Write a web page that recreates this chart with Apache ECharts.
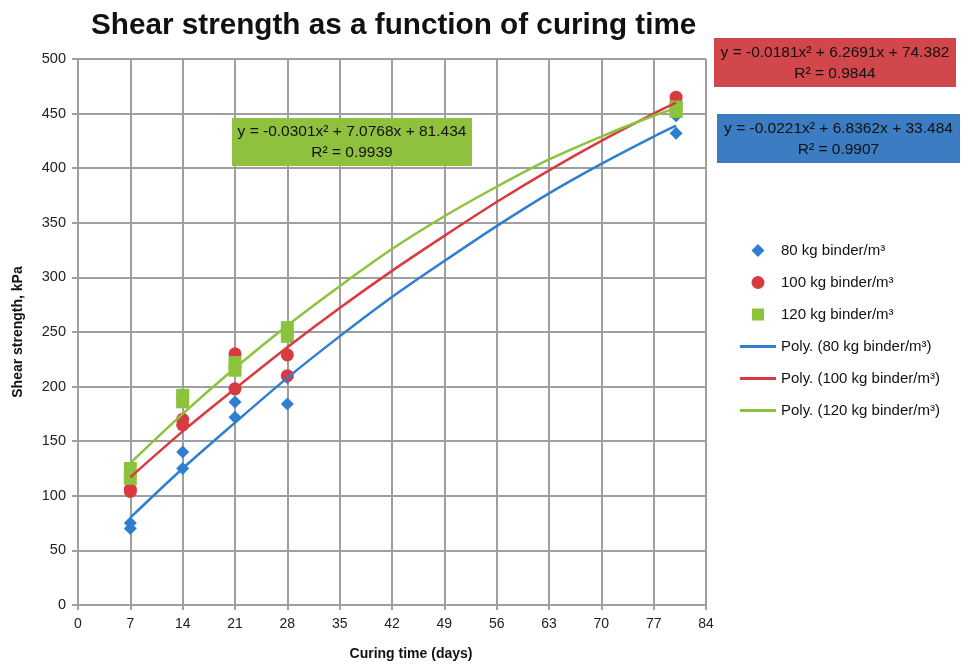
<!DOCTYPE html>
<html>
<head>
<meta charset="utf-8">
<script src="https://cdn.jsdelivr.net/npm/echarts@6/dist/echarts.min.js"></script>
<style>
  html, body { margin: 0; padding: 0; background: #fff; }
  #chart { width: 969px; height: 668px; }
</style>
</head>
<body>
<div id="chart"></div>
<script>
// measured samples (days, kPa)
const sampleDays = [7, 7, 14, 14, 21, 21, 28, 28, 80, 80];
const strength80 = [75, 70, 140, 125, 186, 172, 208, 184, 448, 432];
const strength100 = [106, 104, 170, 165, 230, 198, 229, 210, 465, 460];
const strength120 = [125, 116, 192, 186, 222, 215, 254, 246, 456, 452];

// trend lines
const trendDays = [7, 14, 21, 28, 35, 42, 49, 56, 63, 70, 77, 80];
const trend80 = [80, 125, 167, 208, 246, 282, 315, 347, 377, 404, 429, 439];
const trend100 = [117, 159, 198, 236, 272, 306, 338, 369, 398, 425, 450, 460];
const trend120 = [130, 175, 217, 256, 292, 326, 356, 383, 408, 429, 448, 455];

const xTicks = { min: 0, max: 84, interval: 7 };
const yTicks = { min: 0, max: 500, interval: 50 };

const seriesNames = [
  "80 kg binder/m³",
  "100 kg binder/m³",
  "120 kg binder/m³",
  "Poly. (80 kg binder/m³)",
  "Poly. (100 kg binder/m³)",
  "Poly. (120 kg binder/m³)",
];

const BLUE = "#2f7fd0";
const RED = "#d83a40";
const GREEN = "#8cc33d";

const pair = (xs, ys) => xs.map((x, i) => [x, ys[i]]);

const chart = echarts.init(document.getElementById("chart"));

const gridColor = "#9f9f9f";
const font = "Liberation Sans, Arial, sans-serif";
// legend icons (paths keep their own aspect ratio)
const lineIcon = "path://M0,0 L36,0 L36,3 L0,3 Z";
const diamondIcon = "path://M18,0 L24.5,6.5 L18,13 L11.5,6.5 Z M0,6 L0.01,6 Z M36,6 L36.01,6 Z";
const squareIcon = "path://M12,0 L24,0 L24,12 L12,12 Z M0,6 L0.01,6 Z M36,6 L36.01,6 Z";

function eqBox(x, y, w, h, color, line1, line2) {
  return {
    type: "group",
    left: x,
    top: y,
    z: 100,
    children: [
      { type: "rect", z: 100, shape: { x: 0, y: 0, width: w, height: h }, style: { fill: color } },
      {
        type: "text",
        z: 101,
        x: w / 2,
        y: h / 2 - 10,
        style: { text: line1, fill: "#111", font: "15.5px " + font, align: "center", verticalAlign: "middle" },
      },
      {
        type: "text",
        z: 101,
        x: w / 2,
        y: h / 2 + 11,
        style: { text: line2, fill: "#111", font: "15.5px " + font, align: "center", verticalAlign: "middle" },
      },
    ],
  };
}

chart.setOption({
  animation: false,
  title: {
    text: "Shear strength as a function of curing time",
    left: 86,
    top: 6,
    textStyle: { fontFamily: font, fontSize: 29.7, fontWeight: "bold", color: "#111" },
  },
  grid: { left: 78, right: 263, top: 59, bottom: 63 },
  xAxis: {
    type: "value",
    min: xTicks.min,
    max: xTicks.max,
    interval: xTicks.interval,
    name: "Curing time (days)",
    nameLocation: "middle",
    nameGap: 42,
    nameTextStyle: { fontFamily: font, fontSize: 14, fontWeight: "bold", color: "#111", padding: [0, 0, 0, 38] },
    axisLine: { lineStyle: { color: gridColor, width: 2 } },
    axisTick: { show: true, length: 5, lineStyle: { color: gridColor, width: 2 } },
    axisLabel: { fontFamily: font, fontSize: 14, color: "#222", margin: 12 },
    splitLine: { show: true, lineStyle: { color: gridColor, width: 2 } },
  },
  yAxis: {
    type: "value",
    min: yTicks.min,
    max: yTicks.max,
    interval: yTicks.interval,
    name: "Shear strength, kPa",
    nameLocation: "middle",
    nameGap: 53,
    nameTextStyle: { fontFamily: font, fontSize: 14, fontWeight: "bold", color: "#111" },
    axisLine: { show: true, lineStyle: { color: gridColor, width: 2 } },
    axisTick: { show: true, length: 6, lineStyle: { color: gridColor, width: 2 } },
    axisLabel: { fontFamily: font, fontSize: 14.5, color: "#222", margin: 12 },
    splitLine: { show: true, lineStyle: { color: gridColor, width: 2 } },
  },
  legend: {
    orient: "vertical",
    left: 740,
    top: 243,
    padding: 0,
    itemWidth: 36,
    itemHeight: 13,
    itemGap: 17,
    textStyle: { fontFamily: font, fontSize: 15, color: "#111" },
    data: [
      { name: seriesNames[0], icon: diamondIcon },
      { name: seriesNames[1], icon: "circle" },
      { name: seriesNames[2], icon: squareIcon },
      { name: seriesNames[3], icon: lineIcon },
      { name: seriesNames[4], icon: lineIcon },
      { name: seriesNames[5], icon: lineIcon },
    ],
  },
  graphic: [
    eqBox(232, 118, 240, 48, "#8fc13f", "y = -0.0301x² + 7.0768x + 81.434", "R² = 0.9939"),
    eqBox(714, 38, 242, 49, "#d2474b", "y = -0.0181x² + 6.2691x + 74.382", "R² = 0.9844"),
    eqBox(717, 114, 243, 49, "#3b7cc2", "y = -0.0221x² + 6.8362x + 33.484", "R² = 0.9907"),
  ],
  series: [
    {
      name: seriesNames[0],
      type: "scatter",
      symbol: "diamond",
      symbolSize: 13,
      itemStyle: { color: BLUE, opacity: 1 },
      data: pair(sampleDays, strength80),
    },
    {
      name: seriesNames[1],
      type: "scatter",
      symbol: "circle",
      symbolSize: 13,
      itemStyle: { color: RED, opacity: 1 },
      data: pair(sampleDays, strength100),
    },
    {
      name: seriesNames[2],
      type: "scatter",
      symbol: "rect",
      symbolSize: 13,
      itemStyle: { color: GREEN, opacity: 1 },
      data: pair(sampleDays, strength120),
    },
    {
      name: seriesNames[3],
      type: "line",
      smooth: 0.3,
      symbol: "none",
      lineStyle: { color: BLUE, width: 2.5 },
      itemStyle: { color: BLUE },
      data: pair(trendDays, trend80),
    },
    {
      name: seriesNames[4],
      type: "line",
      smooth: 0.3,
      symbol: "none",
      lineStyle: { color: RED, width: 2.5 },
      itemStyle: { color: RED },
      data: pair(trendDays, trend100),
    },
    {
      name: seriesNames[5],
      type: "line",
      smooth: 0.3,
      symbol: "none",
      lineStyle: { color: GREEN, width: 2.5 },
      itemStyle: { color: GREEN },
      data: pair(trendDays, trend120),
    },
  ],
});
</script>
</body>
</html>
